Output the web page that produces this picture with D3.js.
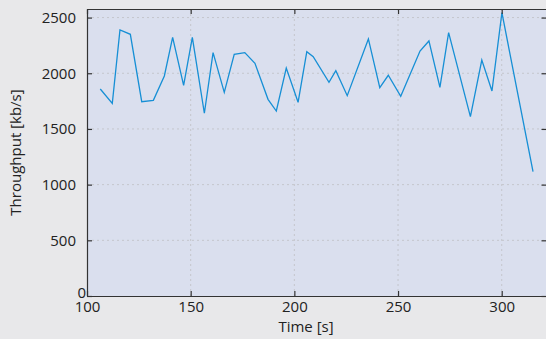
<!DOCTYPE html>
<html>
<head>
<meta charset="utf-8">
<script src="https://cdn.jsdelivr.net/npm/d3@7"></script>
<style>
  body { margin: 0; background: #e8e8ea; }
  .chart text { font-family: "Open Sans", sans-serif; fill: #222; }
</style>
</head>
<body>
<div class="chart"></div>
<script>
// sample times [s] and throughput [kb/s]
const times = [106.4, 112.2, 115.9, 120.9, 126.4, 132.0, 137.3, 141.3, 146.6, 150.8,
               156.6, 160.8, 166.2, 171.0, 176.1, 181.0, 187.3, 191.3, 196.1, 201.8,
               206.0, 209.1, 216.7, 220.0, 225.5, 235.7, 241.2, 245.3, 251.3, 260.6,
               264.9, 270.2, 274.4, 284.9, 290.4, 295.3, 300.1, 315.1];
const throughput = [1859, 1730, 2389, 2350, 1745, 1757, 1976, 2323, 1892, 2323,
                    1641, 2185, 1829, 2170, 2185, 2090, 1766, 1661, 2047, 1739,
                    2194, 2149, 1919, 2023, 1799, 2308, 1871, 1982, 1793, 2200,
                    2290, 1874, 2365, 1610, 2119, 1841, 2544, 1116];
const xTicks = [100, 150, 200, 250, 300];
const yTicks = [0, 500, 1000, 1500, 2000, 2500];

const margin = {top: 9, right: 0, bottom: 43, left: 87},
      width = 546 - margin.left - margin.right,
      height = 339 - margin.top - margin.bottom;

const svg = d3.select(".chart").append("svg")
    .attr("width", width + margin.left + margin.right)
    .attr("height", height + margin.top + margin.bottom)
    .append("g")
    .attr("transform", "translate(" + margin.left + "," + margin.top + ")");

const x = d3.scaleLinear().domain([100, 321.6]).range([0, width + 0.5]);
const y = d3.scaleLinear().domain([0, 2577]).range([height, 0]);

svg.append("rect")
    .attr("width", width + 1)
    .attr("height", height)
    .attr("fill", "#dadfee");

// dotted grid
svg.append("g").selectAll("line")
    .data(xTicks.slice(1))
    .join("line")
    .attr("x1", d => x(d)).attr("x2", d => x(d))
    .attr("y1", 0).attr("y2", height)
    .attr("stroke", "#c4c6cc")
    .attr("stroke-dasharray", "2,3");

svg.append("g").selectAll("line")
    .data(yTicks.slice(1))
    .join("line")
    .attr("x1", 0).attr("x2", width + 1)
    .attr("y1", d => y(d)).attr("y2", d => y(d))
    .attr("stroke", "#c4c6cc")
    .attr("stroke-dasharray", "2,3");

const data = times.map((t, i) => ({t: t, v: throughput[i]}));

svg.append("path")
    .datum(data)
    .attr("fill", "none")
    .attr("stroke", "#168fd5")
    .attr("stroke-width", 1.3)
    .attr("d", d3.line().x(d => x(d.t)).y(d => y(d.v)));

// axes, ticks pointing inwards on all four sides
const fmt = d3.format("d");

svg.append("g")
    .attr("transform", "translate(0," + height + ")")
    .call(d3.axisBottom(x).tickValues(xTicks).tickFormat(fmt).tickSizeInner(-5).tickSizeOuter(0).tickPadding(5));

svg.append("g")
    .call(d3.axisTop(x).tickValues(xTicks).tickSizeInner(-5).tickSizeOuter(0).tickFormat(""));

const yAxis = svg.append("g")
    .call(d3.axisLeft(y).tickValues(yTicks).tickFormat(fmt).tickSizeInner(-5).tickSizeOuter(0).tickPadding(11));

svg.append("g")
    .attr("transform", "translate(" + (width + 0.5) + ",0)")
    .call(d3.axisRight(y).tickValues(yTicks).tickSizeInner(-5).tickSizeOuter(0).tickFormat(""));

svg.selectAll(".domain, .tick line")
    .attr("stroke", "#333")
    .attr("stroke-width", 1.2);

svg.selectAll(".tick text")
    .attr("font-size", 15)
    .attr("font-family", "Open Sans, sans-serif")
    .attr("fill", "#222");

// the zero label sits tucked into the corner
yAxis.selectAll(".tick text")
    .filter(d => d === 0)
    .attr("x", -1)
    .attr("dy", "0.1em");

svg.append("text")
    .attr("x", 219)
    .attr("y", height + 36)
    .attr("text-anchor", "middle")
    .attr("font-size", 15)
    .text("Time [s]");

svg.append("text")
    .attr("transform", "translate(" + (-66) + "," + (height / 2) + ") rotate(-90)")
    .attr("text-anchor", "middle")
    .attr("font-size", 15)
    .text("Throughput [kb/s]");
</script>
</body>
</html>
